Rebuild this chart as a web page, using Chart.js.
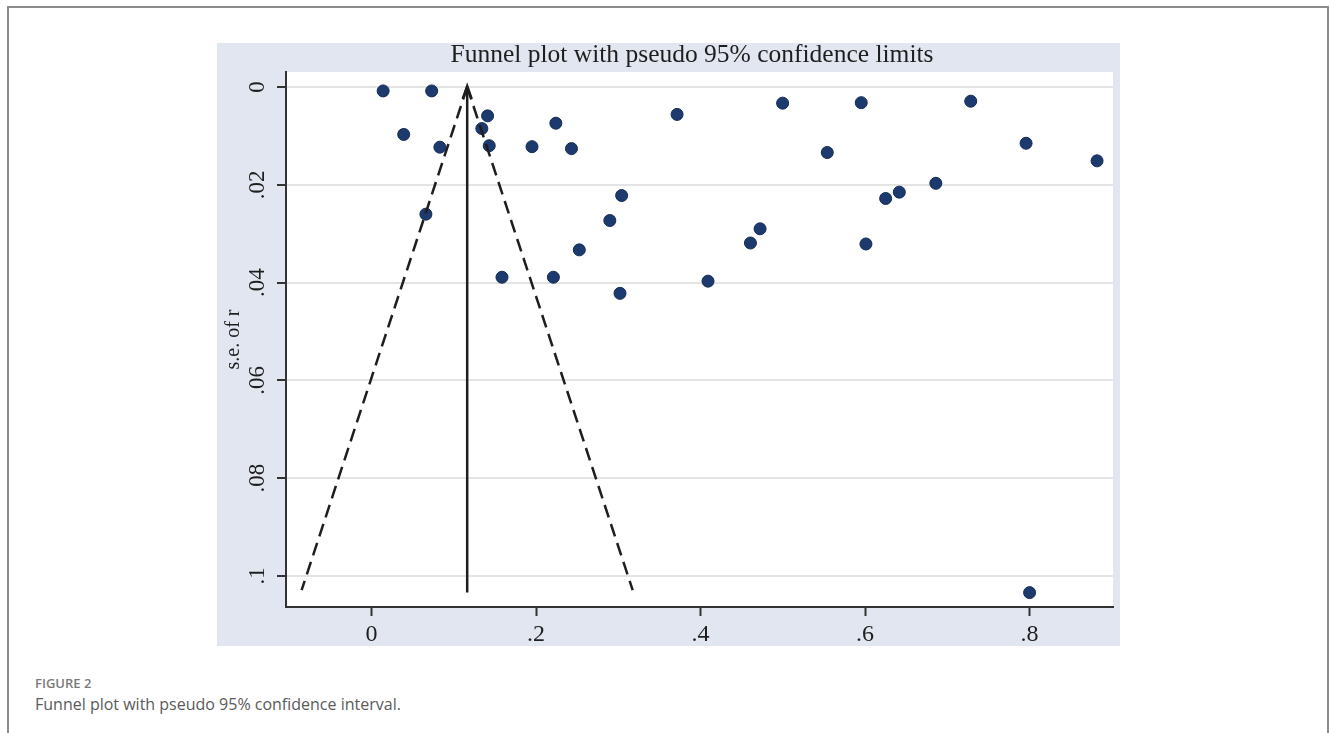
<!DOCTYPE html>
<html>
<head>
<meta charset="utf-8">
<script src="https://cdn.jsdelivr.net/npm/chart.js@4.4.0/dist/chart.umd.min.js"></script>
<style>
body { margin: 0; background: #fff; width: 1330px; height: 733px; overflow: hidden; position: relative; }
#frame { position: absolute; left: 7px; top: 6px; width: 1322px; height: 760px; border: 2px solid #8c8c8c; box-sizing: border-box; }
#panel { position: absolute; left: 217px; top: 43px; width: 903px; height: 603px; background: #e2e6f0; }
#fig { position: absolute; left: 35px; top: 674px; font: 600 13px "Open Sans"; color: #7a7a7a; }
#caption { position: absolute; left: 35px; top: 693px; font: 16px "Open Sans"; color: #5a5a5a; }
</style>
</head>
<body>
<div id="frame"></div>
<div id="panel"><canvas id="funnel" width="903" height="603"></canvas></div>
<div id="fig">FIGURE 2</div>
<div id="caption">Funnel plot with pseudo 95% confidence interval.</div>
<script>
// study effect sizes (r) and their standard errors
const effectR = [0.014, 0.073, 0.141, 0.039, 0.134, 0.224, 0.083, 0.143, 0.195, 0.243,
                 0.066, 0.2525, 0.1585, 0.221, 0.2896, 0.304, 0.3714, 0.4997, 0.554, 0.4723,
                 0.4606, 0.409, 0.302, 0.5953, 0.7284, 0.7957, 0.882, 0.686, 0.6416, 0.625,
                 0.601, 0.800];
const seR = [0.0008, 0.0008, 0.0059, 0.0097, 0.0085, 0.0074, 0.0123, 0.0120, 0.0122, 0.0126,
             0.0260, 0.0333, 0.0389, 0.0389, 0.0273, 0.0222, 0.0056, 0.0033, 0.0134, 0.0290,
             0.0319, 0.0397, 0.0422, 0.0032, 0.0029, 0.0115, 0.0151, 0.0197, 0.0215, 0.0228,
             0.0321, 0.1034];

// pooled estimate and pseudo 95% limits
const pooledR = 0.1162;
const pooledSe = [0, 0.1034];
const limitSe = [0, 0.1029];
const lowerLimit = [0.1162, -0.0851];
const upperLimit = [0.1162, 0.3174];

const xTicks = [0, 0.2, 0.4, 0.6, 0.8];
const xTickLabels = ['0', '.2', '.4', '.6', '.8'];
const yTicks = [0, 0.02, 0.04, 0.06, 0.08, 0.1];
const yTickLabels = ['0', '.02', '.04', '.06', '.08', '.1'];

const serif = 'Liberation Serif';
const ink = '#1e1e1e';

const plotBg = {
    id: 'plotBg',
    beforeDraw(chart) {
        const a = chart.chartArea;
        const ctx = chart.ctx;
        ctx.save();
        ctx.fillStyle = '#ffffff';
        ctx.fillRect(a.left, a.top, a.right - a.left, a.bottom - a.top);
        ctx.restore();
    }
};

const arrowHead = {
    id: 'arrowHead',
    afterDatasetsDraw(chart) {
        const ctx = chart.ctx;
        const px = chart.scales.x.getPixelForValue(pooledR);
        const py = chart.scales.y.getPixelForValue(pooledSe[0]);
        ctx.save();
        ctx.strokeStyle = ink;
        ctx.lineWidth = 2.5;
        ctx.lineJoin = 'miter';
        ctx.beginPath();
        ctx.moveTo(px - 4.5, py + 12);
        ctx.lineTo(px, py - 1);
        ctx.lineTo(px + 4.5, py + 12);
        ctx.stroke();
        ctx.restore();
    }
};

const plotTitle = {
    id: 'plotTitle',
    afterDraw(chart) {
        const ctx = chart.ctx;
        ctx.save();
        ctx.font = '25.5px "' + serif + '"';
        ctx.fillStyle = ink;
        ctx.textAlign = 'center';
        ctx.textBaseline = 'middle';
        ctx.fillText('Funnel plot with pseudo 95% confidence limits', 475, 12);
        ctx.restore();
    }
};

function lineSet(xs, ys, dash) {
    return {
        data: xs.map((x, i) => ({x: x, y: ys[i]})),
        showLine: true,
        borderColor: ink,
        borderWidth: 2.5,
        borderDash: dash,
        pointRadius: 0,
        fill: false
    };
}

const ctx = document.getElementById('funnel').getContext('2d');

const chart = new Chart(ctx, {
    type: 'scatter',
    data: {
        datasets: [
            lineSet(lowerLimit, limitSe, [13, 7]),
            lineSet(upperLimit, limitSe, [13, 7]),
            lineSet(pooledSe.map(() => pooledR), pooledSe, []),
            {
                data: effectR.map((r, i) => ({x: r, y: seR[i]})),
                backgroundColor: '#1d3a6e',
                borderColor: '#142b55',
                borderWidth: 1,
                pointRadius: 6
            }
        ]
    },
    options: {
        responsive: false,
        animation: false,
        layout: { padding: { top: 29, right: 3, left: 0, bottom: 0 } },
        plugins: {
            legend: { display: false },
            tooltip: { enabled: false },
            title: { display: false }
        },
        scales: {
            x: {
                type: 'linear',
                min: -0.1041,
                max: 0.9014,
                afterBuildTicks: s => { s.ticks = xTicks.map(v => ({value: v})); },
                afterFit: s => { s.height = 39; },
                ticks: {
                    callback: (v, i) => xTickLabels[i],
                    font: { family: serif, size: 24 },
                    color: ink,
                    padding: 4,
                    maxRotation: 0,
                    autoSkip: false
                },
                grid: { drawOnChartArea: false, tickLength: 9, tickWidth: 2, tickColor: '#333' },
                border: { color: '#333', width: 2 }
            },
            y: {
                type: 'linear',
                reverse: true,
                min: -0.00307,
                max: 0.10634,
                afterBuildTicks: s => { s.ticks = yTicks.map(v => ({value: v})); },
                afterFit: s => { s.width = 69; },
                ticks: {
                    callback: (v, i) => yTickLabels[i],
                    font: { family: serif, size: 23 },
                    color: ink,
                    padding: 5,
                    minRotation: 90,
                    maxRotation: 90,
                    crossAlign: 'center',
                    autoSkip: false
                },
                grid: { color: '#e4e4e4', lineWidth: 2, tickLength: 9, tickWidth: 2, tickColor: '#333' },
                border: { color: '#333', width: 2 },
                title: {
                    display: true,
                    text: 's.e. of r',
                    font: { family: serif, size: 20 },
                    color: ink,
                    padding: { top: 5, bottom: 0 }
                }
            }
        }
    },
    plugins: [plotBg, arrowHead, plotTitle]
});
</script>
</body>
</html>
